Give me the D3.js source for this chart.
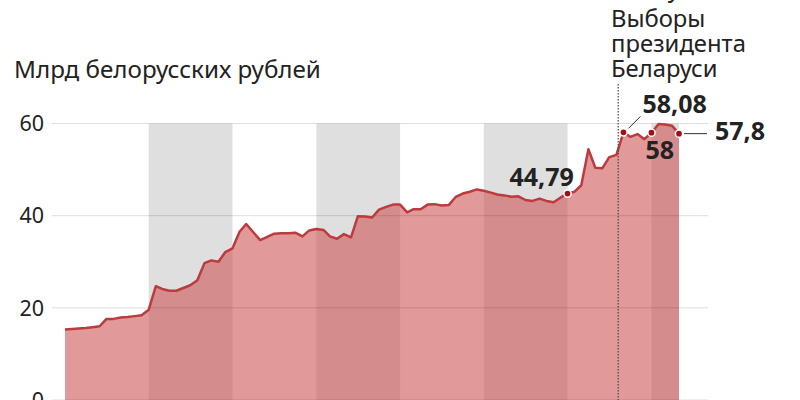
<!DOCTYPE html>
<html>
<head>
<meta charset="utf-8">
<script src="https://cdn.jsdelivr.net/npm/d3@7"></script>
<style>
  body { margin: 0; background: #fff; }
  svg text { font-family: "Noto Sans", "Open Sans", sans-serif; }
</style>
</head>
<body>
<div id="chart"></div>
<script>
const width = 800;
const height = 400;

// monthly values, Jan 2014 .. May 2021
const values = [
    15.3, 15.4, 15.5, 15.6, 15.8, 16.0, 17.6, 17.6, 17.9, 18.0, 18.2, 18.4,
    19.6, 24.7, 24.1, 23.7, 23.7, 24.3, 24.9, 26.0, 29.7, 30.3, 30.0, 32.1,
    32.9, 36.5, 38.2, 36.4, 34.7, 35.4, 36.1, 36.2, 36.2, 36.3, 35.5, 36.8,
    37.1, 36.9, 35.5, 35.0, 36.0, 35.3, 39.9, 39.8, 39.6, 41.3, 41.9, 42.4,
    42.4, 40.7, 41.4, 41.4, 42.4, 42.5, 42.2, 42.3, 44.1, 44.8, 45.2, 45.7,
    45.4, 45.0, 44.6, 44.4, 44.1, 44.2, 43.4, 43.2, 43.7, 43.2, 42.9, 43.9,
    44.79, 45.2, 46.6, 54.4, 50.4, 50.3, 52.7, 53.2, 58.08, 57.1, 57.7, 56.6,
    58.0, 59.9, 59.8, 59.5, 57.8
];
const months = d3.timeMonth.range(new Date(2014, 0, 1), new Date(2021, 5, 1));
const data = months.map((d, i) => ({ date: d, value: values[i] }));

const shadedYears = [2015, 2017, 2019, 2021];
const yTicks = [0, 20, 40, 60];
const yLabel = "Млрд белорусских рублей";
const electionDate = new Date(2020, 7, 9);
const electionText = ["9 августа", "Выборы", "президента", "Беларуси"];

// highlighted points: index in data, label text
const callouts = [
    { i: 72, text: "44,79" },
    { i: 80, text: "58,08" },
    { i: 84, text: "58" },
    { i: 88, text: "57,8" }
];

const svg = d3.select("#chart")
    .append("svg")
    .attr("width", width)
    .attr("height", height);

const x = d3.scaleTime()
    .domain([months[0], months[months.length - 1]])
    .range([65, 679]);

const y = d3.scaleLinear()
    .domain([0, 60])
    .range([400, 123.5]);

const lastDate = months[months.length - 1];

// alternate year bands
svg.selectAll(".band")
    .data(shadedYears)
    .enter()
    .append("rect")
    .attr("class", "band")
    .attr("x", d => x(new Date(d, 0, 1)))
    .attr("width", d => x(d3.min([new Date(d + 1, 0, 1), lastDate])) - x(new Date(d, 0, 1)))
    .attr("y", y(60))
    .attr("height", height - y(60) + 10)
    .attr("fill", "#dfdfdf");

const area = d3.area()
    .x(d => x(d.date))
    .y0(y(0) + 10)
    .y1(d => y(d.value));

const line = d3.line()
    .x(d => x(d.date))
    .y(d => y(d.value));

svg.append("path")
    .datum(data)
    .attr("d", area)
    .attr("fill", "rgb(205,80,80)")
    .attr("fill-opacity", 0.58);

// grid lines on top
svg.selectAll(".grid")
    .data(yTicks)
    .enter()
    .append("line")
    .attr("x1", 52)
    .attr("x2", 708)
    .attr("y1", d => y(d))
    .attr("y2", d => y(d))
    .attr("stroke", "#000")
    .attr("stroke-opacity", 0.13)
    .attr("stroke-width", 1);

svg.append("path")
    .datum(data)
    .attr("d", line)
    .attr("fill", "none")
    .attr("stroke", "#bb3b3e")
    .attr("stroke-width", 2.5)
    .attr("stroke-linejoin", "round");

svg.selectAll(".tick-label")
    .data(yTicks)
    .enter()
    .append("text")
    .attr("x", 44)
    .attr("y", d => y(d))
    .attr("dy", "0.36em")
    .attr("text-anchor", "end")
    .attr("font-size", 21.5)
    .attr("fill", "#222")
    .text(d => d);

svg.append("text")
    .attr("x", 14)
    .attr("y", 78)
    .attr("font-size", 24.2)
    .attr("fill", "#222")
    .text(yLabel);

// election marker
const ex = x(electionDate);
svg.append("line")
    .attr("x1", ex)
    .attr("x2", ex)
    .attr("y1", 84)
    .attr("y2", height)
    .attr("stroke", "#444")
    .attr("stroke-width", 1.2)
    .attr("stroke-dasharray", "1.5,1.5");

svg.selectAll(".election")
    .data(electionText)
    .enter()
    .append("text")
    .attr("x", 611)
    .attr("y", (d, i) => i === 0 ? -3 : 2 + i * 25)
    .attr("font-size", 23.8)
    .attr("fill", "#222")
    .text(d => d);

// callout leader lines
const p80 = data[80], p88 = data[88];
svg.append("line")
    .attr("x1", x(p80.date) + 5).attr("y1", y(p80.value) - 4)
    .attr("x2", x(p80.date) + 17).attr("y2", y(p80.value) - 16)
    .attr("stroke", "#333").attr("stroke-width", 1);
svg.append("line")
    .attr("x1", x(p88.date) + 5).attr("y1", y(p88.value))
    .attr("x2", x(p88.date) + 28).attr("y2", y(p88.value))
    .attr("stroke", "#333").attr("stroke-width", 1);

svg.selectAll(".dot")
    .data(callouts)
    .enter()
    .append("circle")
    .attr("cx", d => x(data[d.i].date))
    .attr("cy", d => y(data[d.i].value))
    .attr("r", 3.6)
    .attr("fill", "#a50d12")
    .attr("stroke", "#fff")
    .attr("stroke-width", 1.5);

const labelPos = {
    72: { dx: -58, dy: -8 },
    80: { dx: 19, dy: -19 },
    84: { dx: -6, dy: 26 },
    88: { dx: 36, dy: 6 }
};

svg.selectAll(".callout")
    .data(callouts)
    .enter()
    .append("text")
    .attr("x", d => x(data[d.i].date) + labelPos[d.i].dx)
    .attr("y", d => y(data[d.i].value) + labelPos[d.i].dy)
    .attr("font-size", 25)
    .attr("font-weight", "bold")
    .attr("fill", "#222")
    .text(d => d.text);
</script>
</body>
</html>
